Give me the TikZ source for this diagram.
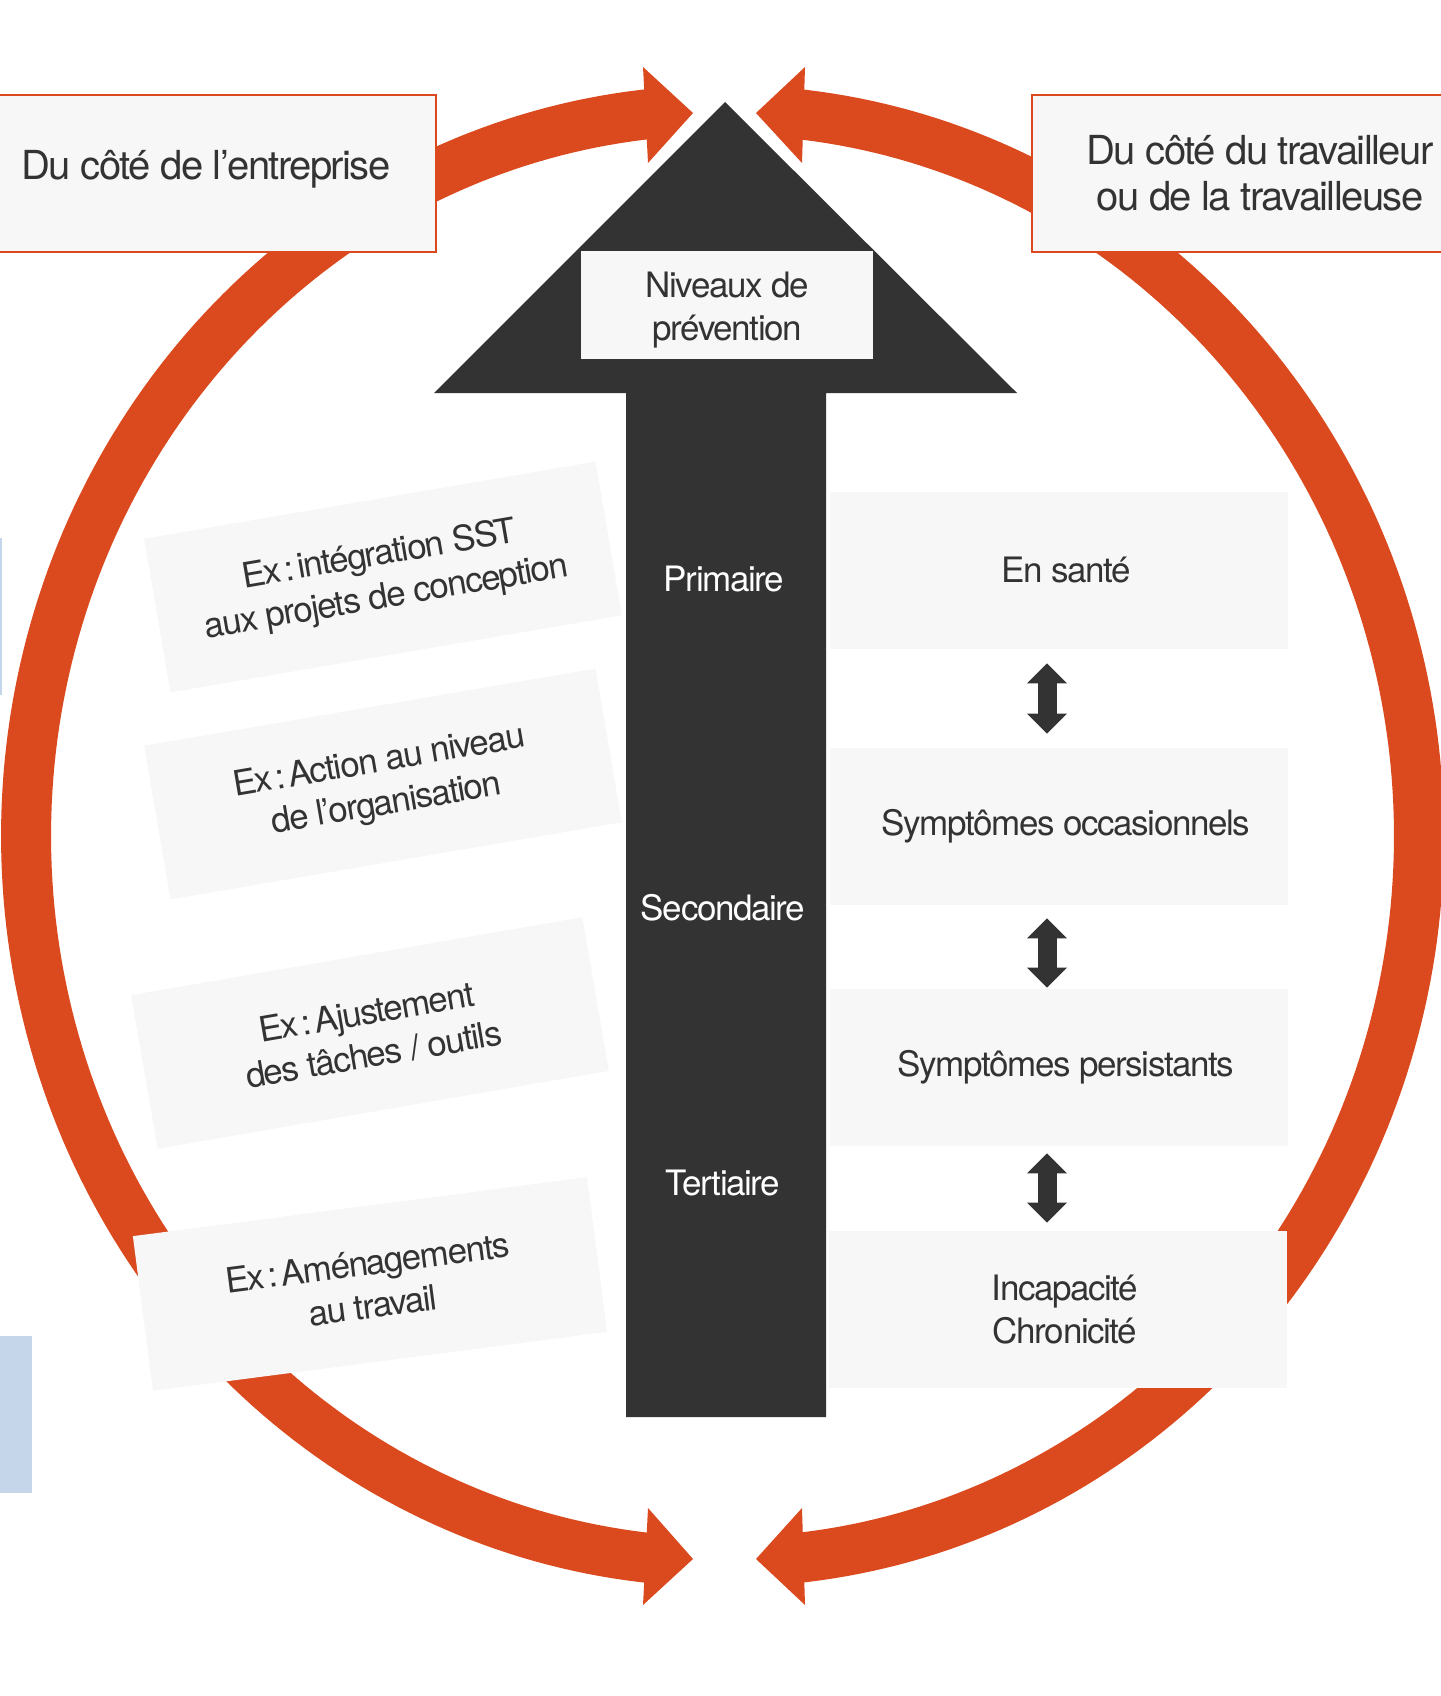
\documentclass[tikz,border=0pt]{standalone}
\usepackage{fontspec}
\setmainfont{TeX Gyre Heros}[LetterSpace=-4]
\usetikzlibrary{arrows.meta,calc}
\definecolor{ringc}{HTML}{DB4A1F}
\definecolor{darkc}{HTML}{333333}
\definecolor{boxc}{HTML}{F7F7F7}
\definecolor{txtc}{HTML}{333333}
\definecolor{bluec}{HTML}{C5D5EA}
\newcommand{\excolon}{\hspace{0.1em}:\hspace{0.1em}}
\begin{document}
\begin{tikzpicture}[x=0.5pt,y=-0.5pt,
  bigfont/.style={font=\fontsize{20pt}{23pt}\selectfont},
  smallfont/.style={font=\fontsize{17.5pt}{21.5pt}\selectfont},
  ring/.style={draw=ringc, line width=25pt},
  ringhead/.style={fill=ringc},
  topbox/.style={draw=ringc, line width=1pt, fill=boxc, minimum height=78.5pt, inner sep=0pt},
  greybox/.style={fill=boxc, minimum width=229pt, minimum height=78.5pt, inner sep=0pt},
  boxtext/.style={smallfont, text=txtc, align=center, inner sep=0pt, xshift=3.5pt},
  exbox/.style={fill=boxc, minimum width=229pt, minimum height=78pt, inner sep=0pt, text=txtc, smallfont, align=center},
  levellabel/.style={text=white, smallfont, anchor=base, inner sep=0pt},
  dblarrow/.style={draw=darkc, line width=9.5pt, {Triangle[length=10pt,width=20pt,line width=0pt]}-{Triangle[length=10pt,width=20pt,line width=0pt]}},
]
\useasboundingbox (0,0) rectangle (1440,1696);

% side strips
\fill[bluec] (0,538) rectangle (2,695);
\fill[bluec] (0,1336) rectangle (32,1493);

% ring
\draw[ring] plot[domain=95.5:264.5, samples=160] ({722+696*cos(\x)}, {836+726*sin(\x)});
\draw[ring] plot[domain=-84.5:84.5, samples=160] ({725+694*cos(\x)}, {836+726*sin(\x)});
\fill[ringhead] (643,67) -- (693,113) -- (648,163) -- cycle;
\fill[ringhead] (805,67) -- (756,113) -- (802,163) -- cycle;
\fill[ringhead] (648,1508) -- (693,1559) -- (643,1605) -- cycle;
\fill[ringhead] (802,1508) -- (756,1559) -- (805,1605) -- cycle;

% big arrow
\fill[darkc] (725,102) -- (1017,393) -- (826,393) -- (826,1417) -- (626,1417) -- (626,393) -- (434,393) -- cycle;
\node[fill=boxc, minimum width=146pt, minimum height=54pt, inner sep=0pt] (nbox) at (727,305) {};
\node[smallfont, text=txtc, align=center, inner sep=0pt] (ntext) at (727,309.7) {Niveaux de\\prévention};
\node[levellabel] (prim) at (724,591) {Primaire};
\node[levellabel] (sec) at (723,920) {Secondaire};
\node[levellabel] (ter) at (723,1195) {Tertiaire};

% top boxes
\node[topbox, minimum width=230pt] (lbox) at (206,173.5) {};
\node[bigfont, text=txtc, inner sep=0pt] (ltext) at (206,169.4) {Du côté de l’entreprise};
\node[topbox, minimum width=228pt, bigfont, text=txtc, align=center] (rbox) at (1260,173.5) {Du côté du travailleur\\ou de la travailleuse};

% right column
\node[greybox, label={[boxtext]center:En santé}] (sante) at (1059,570.5) {};
\node[greybox, label={[boxtext]center:Symptômes occasionnels}] (occ) at (1059,826.5) {};
\node[greybox, label={[boxtext]center:Symptômes persistants}] (pers) at (1059,1067.5) {};
\node[greybox, label={[boxtext]center:{Incapacité\\Chronicité}}] (incap) at (1058,1309.5) {};
\draw[dblarrow] ([xshift=-6pt,yshift=-7pt]sante.south) -- ([xshift=-6pt,yshift=7pt]occ.north);
\draw[dblarrow] ([xshift=-6pt,yshift=-6.5pt]occ.south) -- ([xshift=-6pt,yshift=0.5pt]pers.north);
\draw[dblarrow] ([xshift=-6pt,yshift=-3.5pt]pers.south) -- ([xshift=-5.5pt,yshift=4pt]incap.north);

% left column
\node[exbox, rotate=9.7] (ex1) at (383,577) {Ex\excolon intégration SST\\aux projets de conception};
\node[exbox, rotate=9.7] (ex2) at (383,784) {Ex\excolon Action au niveau\\de l’organisation};
\node[exbox, rotate=9.8] (ex3) at (370,1033) {Ex\excolon Ajustement\\des tâches / outils};
\node[exbox, rotate=7.4] (ex4) at (370,1284) {Ex\excolon Aménagements\\au travail};
\end{tikzpicture}
\end{document}
